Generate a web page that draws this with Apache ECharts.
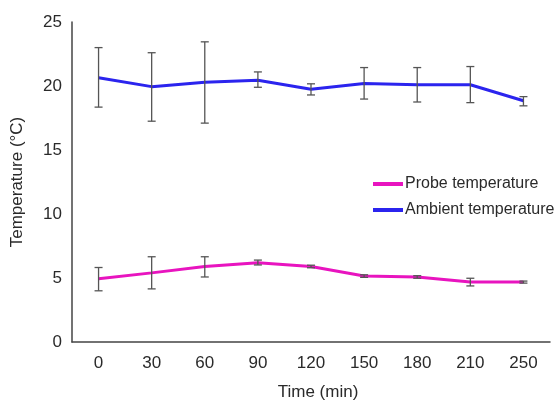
<!DOCTYPE html>
<html>
<head>
<meta charset="utf-8">
<script src="https://cdn.jsdelivr.net/npm/echarts@6/dist/echarts.min.js"></script>
<style>
  html, body { margin: 0; padding: 0; background: #fff; }
  #main { width: 555px; height: 406px; }
</style>
</head>
<body>
<div id="main"></div>
<script>
// 时间点
var times = ['0', '30', '60', '90', '120', '150', '180', '210', '250'];
// 探头温度
var probe = [4.95, 5.4, 5.9, 6.2, 5.9, 5.15, 5.08, 4.68, 4.68];
var probeLow = [4.0, 4.15, 5.08, 6.02, 5.8, 5.05, 4.98, 4.38, 4.6];
var probeHigh = [5.82, 6.66, 6.66, 6.4, 6.0, 5.25, 5.18, 4.98, 4.76];
// 环境温度
var ambient = [20.65, 19.95, 20.3, 20.45, 19.75, 20.2, 20.1, 20.1, 18.85];
var ambientLow = [18.35, 17.25, 17.1, 19.9, 19.3, 18.98, 18.75, 18.7, 18.45];
var ambientHigh = [23.0, 22.6, 23.45, 21.1, 20.17, 21.44, 21.44, 21.52, 19.17];
var yTicks = [0, 5, 10, 15, 20, 25];

var font = '"Liberation Sans", Arial, sans-serif';

function errData(low, high) {
  return times.map(function (t, i) { return [i, low[i], high[i]]; });
}

// 误差棒
function renderErr(params, api) {
  var x = api.value(0);
  var lo = api.coord([x, api.value(1)]);
  var hi = api.coord([x, api.value(2)]);
  var w = 4;
  var st = { stroke: '#555', lineWidth: 1.3 };
  return {
    type: 'group',
    children: [
      { type: 'line', shape: { x1: lo[0], y1: lo[1], x2: hi[0], y2: hi[1] }, style: st },
      { type: 'line', shape: { x1: lo[0] - w, y1: lo[1], x2: lo[0] + w, y2: lo[1] }, style: st },
      { type: 'line', shape: { x1: hi[0] - w, y1: hi[1], x2: hi[0] + w, y2: hi[1] }, style: st }
    ]
  };
}

var myChart = echarts.init(document.getElementById('main'));
myChart.setOption({
  animation: false,
  backgroundColor: '#fff',
  textStyle: { fontFamily: font },
  grid: { left: 72, right: 5, top: 22, bottom: 56 },
  legend: {
    orient: 'vertical',
    left: 368,
    top: 171,
    itemWidth: 30,
    itemHeight: 4,
    itemGap: 10,
    icon: 'rect',
    textStyle: { fontSize: 16, color: '#2a2a2a', fontFamily: font, padding: [0, 0, 0, -3] },
    data: ['Probe temperature', 'Ambient temperature']
  },
  xAxis: {
    type: 'category',
    data: times,
    boundaryGap: true,
    name: 'Time (min)',
    nameLocation: 'middle',
    nameGap: 42,
    nameTextStyle: { fontSize: 17, color: '#2a2a2a', fontFamily: font, padding: [0, 0, 0, 14] },
    axisLine: { lineStyle: { color: '#444', width: 1.5 } },
    axisTick: { show: false },
    axisLabel: { fontSize: 17, color: '#2a2a2a', margin: 13, fontFamily: font }
  },
  yAxis: {
    type: 'value',
    min: yTicks[0],
    max: yTicks[yTicks.length - 1],
    interval: 5,
    name: 'Temperature (°C)',
    nameLocation: 'middle',
    nameGap: 46,
    nameTextStyle: { fontSize: 17, color: '#2a2a2a', fontFamily: font },
    axisLine: { show: true, lineStyle: { color: '#444', width: 1.5 } },
    axisTick: { show: false },
    splitLine: { show: false },
    axisLabel: { fontSize: 17, color: '#2a2a2a', margin: 10, fontFamily: font }
  },
  series: [
    {
      name: 'Probe temperature',
      type: 'line',
      data: probe,
      symbol: 'none',
      z: 3,
      lineStyle: { color: '#e814bf', width: 3 },
      itemStyle: { color: '#e814bf' }
    },
    {
      name: 'Ambient temperature',
      type: 'line',
      data: ambient,
      symbol: 'none',
      z: 3,
      lineStyle: { color: '#2b24ee', width: 3 },
      itemStyle: { color: '#2b24ee' }
    },
    {
      type: 'custom',
      renderItem: renderErr,
      data: errData(probeLow, probeHigh),
      z: 4,
      encode: { x: 0, y: [1, 2] }
    },
    {
      type: 'custom',
      renderItem: renderErr,
      data: errData(ambientLow, ambientHigh),
      z: 4,
      encode: { x: 0, y: [1, 2] }
    }
  ]
});
</script>
</body>
</html>
